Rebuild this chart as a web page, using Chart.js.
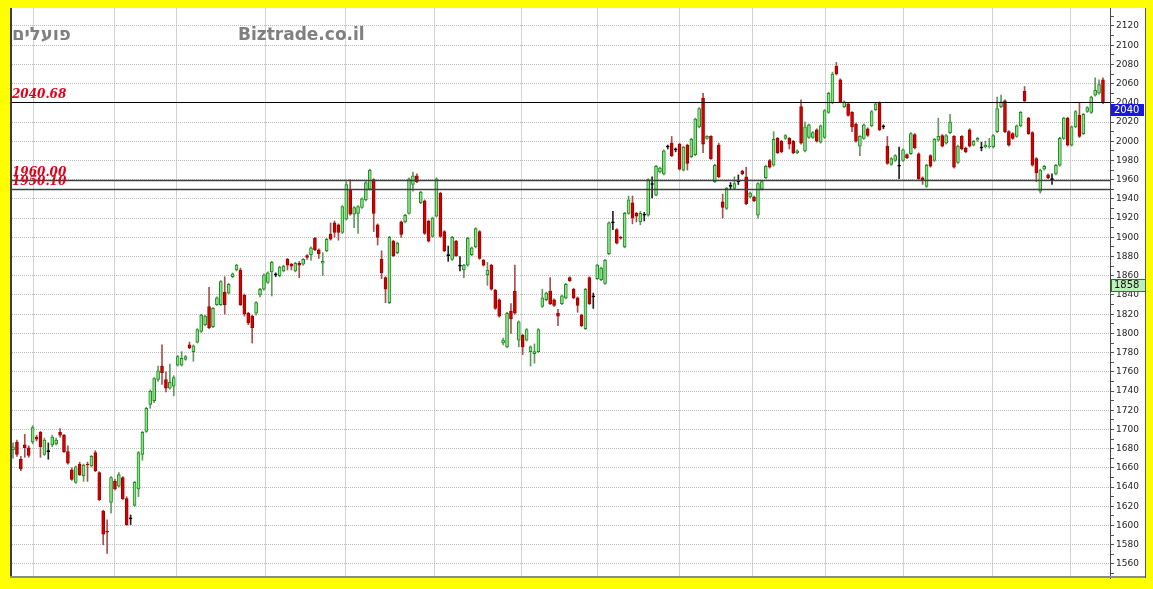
<!DOCTYPE html>
<html>
<head>
<meta charset="utf-8">
<script src="https://cdn.jsdelivr.net/npm/chart.js@4.4.0/dist/chart.umd.min.js"></script>
<style>
  html, body { margin: 0; padding: 0; background: #ffff00; }
  #wrap { width: 1153px; height: 589px; }
</style>
</head>
<body>
<div id="wrap"><canvas id="chart" width="1153" height="589"></canvas></div>
<script>
// נתוני מניה יומיים (פתיחה / גבוה / נמוך / סגירה), נקראו מהתמונה
const opens = [
  1679,1687,1669,1684,1681,1687,1692,1697,1674,1677,1684,1685,1697,1694,1677,1658,1645,1664,1652,1664,
  1662,1676,1655,1615,1594,1624,1646,1641,1650,1628,1607,1621,1638,1674,1698,1726,1730,1752,1766,1752,
  1743,1745,1767,1767,1773,1788,1781,1791,1802,1809,1828,1807,1830,1830,1843,1842,1859,1866,1866,1840,
  1821,1818,1821,1840,1846,1853,1864,1861,1860,1865,1877,1872,1865,1873,1872,1881,1882,1899,1887,1873,
  1886,1903,1915,1913,1905,1919,1950,1924,1925,1931,1939,1950,1960,1913,1877,1858,1832,1896,1884,1916,
  1916,1925,1955,1964,1936,1938,1917,1901,1922,1946,1906,1881,1877,1896,1870,1866,1871,1882,1890,1906,
  1876,1861,1871,1845,1835,1790,1786,1823,1844,1793,1798,1793,1781,1779,1781,1828,1835,1844,1835,1821,
  1831,1837,1858,1846,1837,1819,1805,1858,1838,1857,1856,1852,1883,1915,1908,1900,1890,1925,1936,1925,
  1916,1923,1923,1955,1944,1968,1966,1994,1998,1991,1997,1970,1996,1984,1986,2015,2045,2003,2005,1958,
  1996,1937,1930,1953,1951,1958,1969,1963,1942,1942,1923,1950,1962,1980,1975,2003,2000,2003,2003,2000,
  1988,2036,1990,2004,2004,2012,1999,2004,2030,2040,2078,2064,2036,2039,2030,2018,1995,2003,2013,2016,
  2033,2040,2015,1995,1976,1980,1974,1980,1986,1987,2007,1987,1962,1953,1985,1980,2001,2006,1998,2009,
  2005,1978,2005,1993,2012,1996,2001,1993,1994,1994,1994,2010,2036,2042,2010,2008,2005,2016,2052,2024,
  2009,1982,1948,1971,1965,1960,1966,1975,2003,2024,1996,2015,2027,2008,2031,2030,2048,2050,2064
];
const highs = [
  1686,1689,1672,1695,1683,1704,1694,1698,1691,1686,1694,1691,1701,1695,1683,1660,1662,1666,1664,1666,
  1673,1678,1656,1616,1606,1651,1648,1655,1651,1630,1611,1646,1677,1698,1723,1741,1754,1766,1788,1760,
  1768,1756,1777,1781,1777,1791,1788,1805,1820,1819,1848,1827,1838,1855,1859,1852,1863,1872,1868,1841,
  1822,1819,1833,1847,1862,1864,1875,1863,1870,1871,1878,1873,1874,1875,1878,1882,1890,1900,1888,1884,
  1899,1915,1917,1914,1933,1958,1960,1932,1933,1941,1958,1971,1961,1914,1886,1859,1901,1897,1895,1917,
  1924,1962,1968,1966,1948,1939,1918,1921,1962,1947,1907,1891,1901,1897,1880,1872,1900,1890,1910,1907,
  1877,1874,1872,1846,1836,1795,1822,1831,1871,1813,1799,1805,1787,1789,1805,1846,1843,1858,1836,1825,
  1840,1852,1859,1847,1838,1820,1847,1859,1842,1872,1869,1877,1916,1927,1909,1901,1926,1943,1943,1926,
  1927,1926,1961,1963,1975,1973,1991,1996,2005,1993,1998,1995,1997,2003,2024,2035,2050,2006,2006,1976,
  1998,1945,1952,1957,1963,1965,1970,1973,1947,1943,1957,1959,1975,1981,2010,2004,2001,2007,2004,2001,
  1991,2043,2020,2018,2010,2013,2017,2033,2051,2072,2082,2065,2042,2040,2031,2019,2006,2018,2014,2032,
  2040,2041,2017,2005,1983,1986,1994,1992,1987,2009,2008,1988,1963,1976,1986,2003,2024,2007,2007,2028,
  2006,1996,2006,1994,2013,2001,2004,1999,2000,2003,2007,2046,2048,2043,2011,2009,2017,2031,2057,2025,
  2010,1983,1971,1975,1966,1966,1976,2004,2025,2025,2016,2032,2040,2029,2036,2047,2066,2064,2066
];
const lows = [
  1670,1672,1657,1671,1671,1685,1688,1671,1673,1669,1682,1684,1692,1676,1664,1647,1644,1652,1646,1646,
  1661,1656,1626,1580,1571,1613,1637,1640,1627,1600,1601,1620,1630,1668,1697,1722,1728,1750,1747,1739,
  1742,1735,1766,1766,1772,1784,1771,1790,1801,1808,1805,1806,1829,1829,1820,1841,1858,1865,1829,1818,
  1809,1790,1819,1838,1845,1852,1839,1859,1859,1864,1866,1866,1864,1858,1871,1877,1876,1886,1878,1860,
  1885,1897,1900,1897,1904,1918,1923,1910,1904,1930,1938,1949,1906,1892,1857,1832,1831,1880,1883,1900,
  1915,1924,1948,1957,1935,1903,1895,1900,1921,1900,1885,1875,1876,1880,1865,1858,1870,1881,1889,1877,
  1870,1850,1845,1825,1817,1788,1785,1800,1820,1786,1778,1792,1766,1769,1780,1827,1834,1830,1828,1808,
  1830,1836,1854,1836,1822,1807,1804,1830,1826,1856,1855,1851,1882,1908,1893,1898,1889,1924,1914,1916,
  1913,1917,1922,1941,1943,1967,1965,1992,1984,1989,1970,1969,1970,1983,1985,2014,1988,2002,1981,1957,
  1962,1920,1929,1950,1950,1955,1965,1934,1941,1937,1920,1949,1961,1972,1974,1987,1988,2002,1992,1987,
  1987,1997,1989,2003,2003,1999,1998,2003,2029,2039,2069,2040,2035,2026,2010,1999,1985,2002,2005,2015,
  2032,2011,2013,1976,1975,1979,1961,1979,1982,1986,1992,1960,1955,1952,1973,1979,2000,1994,1997,2008,
  1972,1977,1991,1988,1994,1995,2000,1990,1993,1993,1993,2009,2035,2009,1995,2002,2004,2015,2041,2007,
  1974,1958,1946,1970,1961,1955,1965,1974,2002,1995,1995,2014,2004,2007,2030,2029,2047,2049,2039
];
const closes = [
  1682,1674,1659,1681,1673,1702,1690,1682,1689,1677,1692,1689,1694,1677,1665,1648,1661,1653,1663,1663,
  1672,1657,1627,1591,1593,1650,1638,1653,1628,1601,1607,1645,1676,1697,1722,1740,1753,1761,1759,1743,
  1749,1754,1776,1774,1776,1785,1787,1804,1819,1818,1806,1826,1837,1854,1830,1851,1862,1871,1830,1820,
  1811,1806,1832,1846,1861,1863,1874,1861,1869,1870,1871,1870,1873,1871,1877,1879,1889,1887,1883,1875,
  1898,1898,1905,1905,1932,1955,1924,1931,1932,1940,1957,1970,1925,1900,1863,1846,1900,1881,1894,1903,
  1923,1961,1964,1958,1947,1904,1896,1920,1961,1901,1886,1881,1900,1881,1870,1871,1899,1889,1909,1878,
  1871,1866,1846,1826,1818,1793,1821,1815,1821,1812,1786,1804,1786,1781,1804,1837,1842,1831,1829,1818,
  1839,1851,1855,1837,1829,1808,1846,1831,1838,1871,1868,1876,1915,1915,1894,1899,1925,1939,1920,1922,
  1925,1923,1960,1955,1974,1972,1990,1994,1985,1991,1971,1994,1977,2002,2023,2034,1997,2005,1982,1975,
  1963,1931,1951,1953,1956,1958,1966,1935,1946,1938,1956,1958,1974,1973,2002,1988,1989,2006,1997,1988,
  1990,1998,2015,2017,2009,2000,2016,2032,2050,2070,2070,2041,2041,2027,2015,2000,2005,2017,2006,2031,
  2039,2012,2015,1977,1982,1985,1974,1991,1983,2008,1993,1961,1960,1975,1974,2002,2005,1995,2006,2020,
  1973,1995,1992,1989,1995,2000,2003,1993,1996,1995,2006,2034,2041,2010,1996,2003,2016,2030,2042,2008,
  1975,1967,1970,1974,1962,1960,1975,2003,2024,1996,2015,2031,2005,2028,2035,2046,2053,2059,2040
];

// קווי תמיכה / התנגדות
const levelValues = [2040.68, 1960.00, 1950.10];
const levelLabels = ["2040.68", "1960.00", "1950.10"];

// תגיות בציר המחיר
const badgeValues = [2040, 1858];
const badgeLabels = ["2040", "1858"];

// תחילת חודשים (קווי רשת אנכיים) לפי אינדקס נר
const monthBreaks = [5.1, 25.8, 41.8, 64.5, 84.9, 107.6, 129.6, 149.2, 170.1, 188.5, 207.1, 227.0, 249.7, 269.8];

const N = closes.length;

const bodyData = [];
const wickData = [];
const bodyFill = [];
const bodyBorder = [];
const wickColor = [];
for (let i = 0; i < N; i++) {
  bodyData.push({ x: i, y: [opens[i], closes[i]] });
  wickData.push({ x: i, y: [lows[i], highs[i]] });
  if (closes[i] > opens[i]) {
    bodyFill.push("#8ee48e");
    bodyBorder.push("#1e8a1e");
    wickColor.push("#5f9a5f");
  } else if (closes[i] < opens[i]) {
    bodyFill.push("#d40000");
    bodyBorder.push("#a00000");
    wickColor.push("#a85050");
  } else {
    bodyFill.push("#000000");
    bodyBorder.push("#000000");
    wickColor.push("#222222");
  }
}

// רקע, כותרות, קווי רמה ותגיות
const decor = {
  id: "decor",
  beforeDraw(chart) {
    const ctx = chart.ctx;
    const a = chart.chartArea;
    const yS = chart.scales.y;
    ctx.save();
    ctx.fillStyle = "#ffff00";
    ctx.fillRect(0, 0, chart.width, chart.height);
    ctx.fillStyle = "#ffffff";
    ctx.fillRect(a.left, a.top, yS.right - a.left, a.bottom - a.top);
    ctx.restore();
  },
  beforeDatasetsDraw(chart) {
    const ctx = chart.ctx;
    ctx.save();
    ctx.fillStyle = "#808080";
    ctx.textBaseline = "alphabetic";
    ctx.textAlign = "left";
    ctx.font = "bold 18px 'DejaVu Sans'";
    ctx.fillText("פועלים", 12, 40);
    ctx.font = "bold 17px 'DejaVu Sans'";
    ctx.fillText("Biztrade.co.il", 238, 40);
    ctx.restore();
  },
  afterDatasetsDraw(chart) {
    const ctx = chart.ctx;
    const a = chart.chartArea;
    const yS = chart.scales.y;
    ctx.save();
    levelValues.forEach((v, k) => {
      const py = Math.round(yS.getPixelForValue(v)) + 0.5;
      ctx.strokeStyle = k === 0 ? "#000000" : "#404040";
      ctx.lineWidth = k === 0 ? 1 : 1.4;
      ctx.beginPath();
      ctx.moveTo(a.left, py);
      ctx.lineTo(a.right, py);
      ctx.stroke();
    });
    ctx.fillStyle = "#e0001a";
    ctx.font = "italic bold 12px 'DejaVu Serif'";
    ctx.textAlign = "left";
    ctx.textBaseline = "alphabetic";
    levelValues.forEach((v, k) => {
      const py = yS.getPixelForValue(v);
      ctx.fillText(levelLabels[k], 12, py - 4);
    });
    ctx.restore();
  },
  afterDraw(chart) {
    const ctx = chart.ctx;
    const a = chart.chartArea;
    const yS = chart.scales.y;
    ctx.save();
    // תגיות
    ctx.font = "10px 'DejaVu Sans'";
    ctx.textAlign = "left";
    ctx.textBaseline = "middle";
    badgeValues.forEach((v, k) => {
      const top = Math.round(yS.getPixelForValue(v)) + 1;
      const x0 = a.right + 1;
      if (k === 0) {
        ctx.fillStyle = "#1818e0";
        ctx.fillRect(x0, top, 33, 12);
        ctx.fillStyle = "#ffffff";
      } else {
        ctx.fillStyle = "#b8f0b8";
        ctx.fillRect(x0, top, 35, 13);
        ctx.strokeStyle = "#2a7a2a";
        ctx.lineWidth = 1;
        ctx.strokeRect(x0 + 0.5, top + 0.5, 34, 12);
        ctx.fillStyle = "#111111";
      }
      ctx.fillText(badgeLabels[k], x0 + 3, top + 6.5);
    });
    // מסגרת
    ctx.strokeStyle = "#3a3a3a";
    ctx.lineWidth = 2;
    ctx.beginPath();
    ctx.moveTo(a.left + 1, a.top);
    ctx.lineTo(a.left + 1, a.bottom);
    ctx.stroke();
    ctx.strokeStyle = "#8a8a8a";
    ctx.beginPath();
    ctx.moveTo(a.left, a.bottom - 1);
    ctx.lineTo(yS.right, a.bottom - 1);
    ctx.stroke();
    ctx.strokeStyle = "#555555";
    ctx.lineWidth = 1;
    ctx.beginPath();
    ctx.moveTo(yS.right - 0.5, a.top);
    ctx.lineTo(yS.right - 0.5, a.bottom);
    ctx.stroke();
    ctx.restore();
  }
};

const ctx = document.getElementById("chart").getContext("2d");
new Chart(ctx, {
  type: "bar",
  data: {
    datasets: [
      {
        label: "גוף",
        data: bodyData,
        backgroundColor: bodyFill,
        borderColor: bodyBorder,
        borderWidth: 1,
        borderSkipped: false,
        barThickness: 3,
        minBarLength: 1,
        grouped: false,
        order: 0
      },
      {
        label: "צל",
        data: wickData,
        backgroundColor: wickColor,
        borderWidth: 0,
        barThickness: 1,
        grouped: false,
        order: 1
      }
    ]
  },
  options: {
    responsive: false,
    animation: false,
    layout: { padding: { left: 10, top: 8, right: 7, bottom: 11 } },
    plugins: {
      legend: { display: false },
      tooltip: { enabled: false }
    },
    scales: {
      x: {
        type: "linear",
        offset: false,
        min: -0.77,
        max: N + 0.79,
        afterBuildTicks: (s) => {
          s.ticks = monthBreaks.map((v) => ({ value: v }));
        },
        afterFit: (s) => { s.height = 0; },
        ticks: { display: false },
        grid: { color: "#d2d2d2", lineWidth: 1, drawTicks: false, offset: false },
        border: { display: false }
      },
      y: {
        position: "right",
        min: 1545.4,
        max: 2138.7,
        afterBuildTicks: (s) => {
          const t = [];
          for (let v = 1550; v <= 2130; v += 10) t.push({ value: v });
          s.ticks = t;
        },
        afterFit: (s) => { s.width = 36; },
        ticks: {
          font: { family: "'DejaVu Sans'", size: 9 },
          color: "#222222",
          padding: 2,
          autoSkip: false,
          callback: (v) => (v % 20 === 0 ? String(v) : "")
        },
        grid: {
          color: (c) => (c.tick && c.tick.value % 20 === 0 ? "#bdbdbd" : "rgba(0,0,0,0)"),
          tickColor: "#555555",
          tickLength: 4,
          lineWidth: 1,
          offset: false
        },
        border: { display: true, color: "#444444", width: 1, dash: [1, 1] }
      }
    }
  },
  plugins: [decor]
});
</script>
</body>
</html>
